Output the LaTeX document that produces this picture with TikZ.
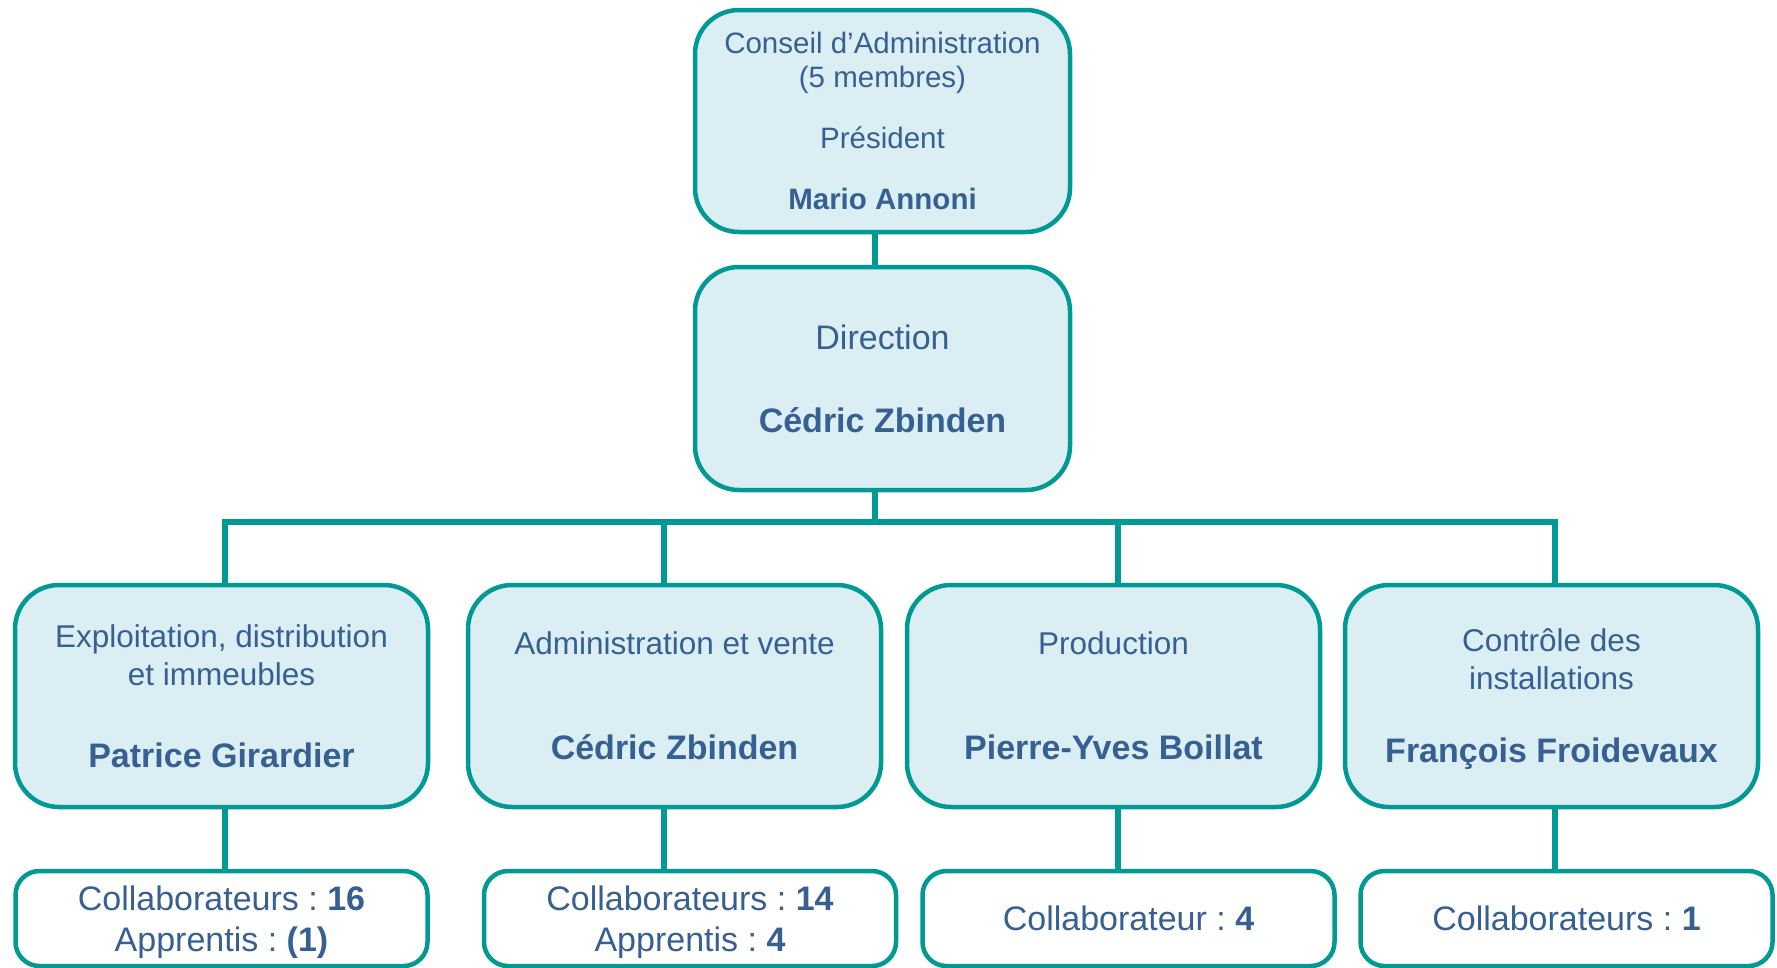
\documentclass[tikz,border=0pt]{standalone}
\usepackage{fontspec}
\setmainfont{Liberation Sans}
\usetikzlibrary{positioning,calc}
\definecolor{orgteal}{RGB}{0,153,148}
\definecolor{orgfill}{RGB}{219,238,244}
\definecolor{orgtext}{RGB}{55,96,146}
\frenchspacing
\newcommand{\who}[1]{{\bfseries\fontsize{34}{38}\selectfont #1}}
\tikzset{
	org chart/.style={
		x=1pt, y=-1pt,
		every node/.style={text=orgtext, align=center, inner sep=0pt, outer sep=0pt},
		link/.style={draw=orgteal, line width=5.5pt},
	},
	unit/.style={draw=orgteal, fill=orgfill, line width=4.5pt,
		rounded corners=44pt, minimum width=375pt, minimum height=222pt},
	dept/.style={unit, minimum width=413pt,
		font=\fontsize{31.5}{38}\selectfont},
	staff/.style={draw=orgteal, fill=white, line width=4.5pt,
		rounded corners=24pt, minimum width=412pt, minimum height=95pt,
		font=\fontsize{34}{41}\selectfont},
}
\begin{document}
\begin{tikzpicture}[org chart]
  \useasboundingbox (0,0) rectangle (1777,967);
  % top of the chart
  \node[unit, font=\fontsize{29.5}{34}\selectfont] (ca) at (882.5,121)
        {Conseil d’Administration\\(5 membres)\\[27pt]Président\\[27pt]\textbf{Mario Annoni}};
  \node[unit, minimum height=223pt, font=\fontsize{34}{38}\selectfont] (dir) at (882.5,378.5)
        {Direction\\[45pt]\textbf{Cédric Zbinden}};
  % departments
  \node[dept] (exp) at (221.5,696)
        {Exploitation, distribution\\et immeubles\\[44pt]\who{Patrice Girardier}};
  \node[dept] (adm) at (674.5,696)
        {Administration et vente\\[67pt]\who{Cédric Zbinden}};
  \node[dept] (prod) at (1113.5,696)
        {Production\\[67pt]\who{Pierre-Yves Boillat}};
  \node[dept] (ctrl) at (1551.5,696)
        {Contrôle des\\installations\\[35pt]\who{\smash{François Froidevaux}}};
  % head counts
  \node[staff] (expstaff) at (221.5,918.5) {Collaborateurs : \textbf{16}\\\smash{Apprentis : \textbf{(1)}}};
  \node[staff] (admstaff) at (690,918.5) {Collaborateurs : \textbf{14}\\\smash{Apprentis : \textbf{4}}};
  \node[staff] (prodstaff) at (1128.5,918.5) {Collaborateur : \textbf{4}};
  \node[staff] (ctrlstaff) at (1566.5,918.5) {Collaborateurs : \textbf{1}};
  % links
  \coordinate (trunk) at (875,522);
  \foreach \n/\x in {exp/225, adm/664, prod/1118, ctrl/1555}
    \coordinate (\n j) at (\x,522);
  \draw[link] (ca.south -| trunk) -- (dir.north -| trunk);
  \draw[link] (dir.south -| trunk) -- (trunk);
  \draw[link] (exp.north -| expj) -- (expj) -- (ctrlj) -- (ctrl.north -| ctrlj);
  \draw[link] (admj) -- (adm.north -| admj);
  \draw[link] (prodj) -- (prod.north -| prodj);
  \foreach \n in {exp, adm, prod, ctrl}
    \draw[link] (\n.south -| \n j) -- (\n staff.north -| \n j);
\end{tikzpicture}
\end{document}
